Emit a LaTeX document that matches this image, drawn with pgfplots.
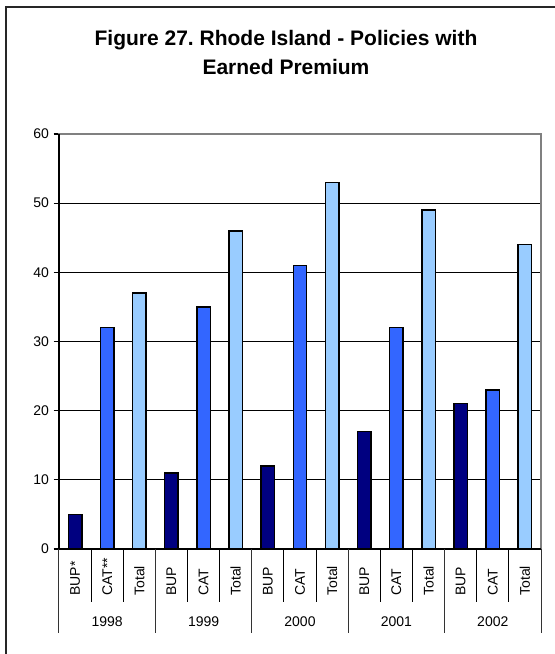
\documentclass[border=0pt]{standalone}
\usepackage{pgfplots}
\pgfplotsset{compat=1.18}
\usepackage{fontspec}
\setmainfont{Liberation Sans}
\definecolor{bup}{HTML}{000080}
\definecolor{cat}{HTML}{3366FF}
\definecolor{tot}{HTML}{99CCFF}
\definecolor{edge}{HTML}{808080}
\newcommand{\lbl}{\fontsize{10.5}{12}\selectfont}
\frenchspacing

\begin{document}
\begin{tikzpicture}
\begin{axis}[
  at={(0,0)}, anchor=south west,
  scale only axis, width=361.5pt, height=311.25pt,
  xmin=-0.5, xmax=14.5, ymin=0, ymax=60,
  ytick={0,10,...,60}, xtick=\empty, ytick pos=left,
  ymajorgrids, grid style={black, line width=0.6pt},
  axis line style={edge, line width=1.5pt},
  tick style={black, line width=0.8pt},
  tick align=outside, major tick length=4pt,
  y tick label style={font=\lbl},
  /pgf/number format/assume math mode=true,
  ybar, bar width=0.42,
  clip=false,
]
% policies with earned premium (thousands)
\addplot[fill=bup, draw=black, line width=1.1pt, bar shift=0pt]
  coordinates {(0,5) (3,11) (6,12) (9,17) (12,21)};
\addplot[fill=cat, draw=black, line width=1.1pt, bar shift=0pt]
  coordinates {(1,32) (4,35) (7,41) (10,32) (13,23)};
\addplot[fill=tot, draw=black, line width=1.1pt, bar shift=0pt]
  coordinates {(2,37) (5,46) (8,53) (11,49) (14,44)};

\draw[black, line width=1.5pt] (rel axis cs:0,1) -- (rel axis cs:0,0) -- (rel axis cs:1,0);

% category separators
\pgfplotsinvokeforeach{0.5,1.5,3.5,4.5,6.5,7.5,9.5,10.5,12.5,13.5}{
  \draw[black, line width=0.75pt] (axis cs:#1,0) -- ([yshift=-39.75pt]axis cs:#1,0);
}
\pgfplotsinvokeforeach{-0.5,2.5,5.5,8.5,11.5,14.5}{
  \draw[black!80, line width=0.75pt] (axis cs:#1,0) -- ([yshift=-63pt]axis cs:#1,0);
}

% category labels
\node[rotate=90, anchor=west, font=\lbl] at ([yshift=-38.5pt]axis cs:0,0) {BUP*};
\node[rotate=90, anchor=west, font=\lbl] at ([yshift=-38.5pt]axis cs:1,0) {CAT**};
\node[rotate=90, anchor=west, font=\lbl] at ([yshift=-38.5pt]axis cs:2,0) {Total};
\node[rotate=90, anchor=west, font=\lbl] at ([yshift=-38.5pt]axis cs:3,0) {BUP};
\node[rotate=90, anchor=west, font=\lbl] at ([yshift=-38.5pt]axis cs:4,0) {CAT};
\node[rotate=90, anchor=west, font=\lbl] at ([yshift=-38.5pt]axis cs:5,0) {Total};
\node[rotate=90, anchor=west, font=\lbl] at ([yshift=-38.5pt]axis cs:6,0) {BUP};
\node[rotate=90, anchor=west, font=\lbl] at ([yshift=-38.5pt]axis cs:7,0) {CAT};
\node[rotate=90, anchor=west, font=\lbl] at ([yshift=-38.5pt]axis cs:8,0) {Total};
\node[rotate=90, anchor=west, font=\lbl] at ([yshift=-38.5pt]axis cs:9,0) {BUP};
\node[rotate=90, anchor=west, font=\lbl] at ([yshift=-38.5pt]axis cs:10,0) {CAT};
\node[rotate=90, anchor=west, font=\lbl] at ([yshift=-38.5pt]axis cs:11,0) {Total};
\node[rotate=90, anchor=west, font=\lbl] at ([yshift=-38.5pt]axis cs:12,0) {BUP};
\node[rotate=90, anchor=west, font=\lbl] at ([yshift=-38.5pt]axis cs:13,0) {CAT};
\node[rotate=90, anchor=west, font=\lbl] at ([yshift=-38.5pt]axis cs:14,0) {Total};

% year labels
\node[font=\lbl] at ([yshift=-54.75pt]axis cs:1,0) {1998};
\node[font=\lbl] at ([yshift=-54.75pt]axis cs:4,0) {1999};
\node[font=\lbl] at ([yshift=-54.75pt]axis cs:7,0) {2000};
\node[font=\lbl] at ([yshift=-54.75pt]axis cs:10,0) {2001};
\node[font=\lbl] at ([yshift=-54.75pt]axis cs:13,0) {2002};
\end{axis}

\draw[black!85, line width=1.5pt] (-39.75pt,-90pt) -- (-39.75pt,406.5pt) -- (390pt,406.5pt);
\node[align=center, font=\bfseries\fontsize{15.75}{21.75}\selectfont] at (170.25pt,372.4pt)
  {Figure 27. Rhode Island - Policies with\\Earned Premium};

\pgfresetboundingbox
\useasboundingbox (-44.25pt,-78.75pt) rectangle (372pt,411.75pt);
\end{tikzpicture}
\end{document}
